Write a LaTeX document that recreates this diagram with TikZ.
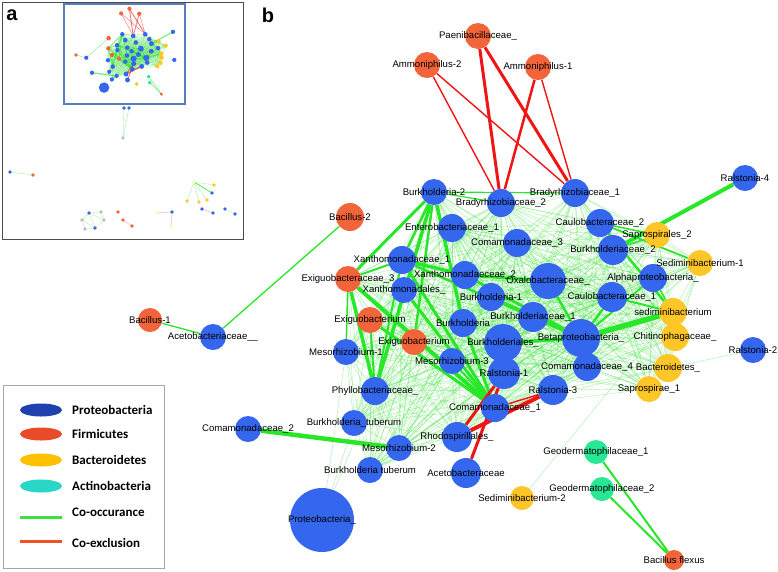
\documentclass[tikz,border=0pt]{standalone}
\usepackage{fontspec}
\setmainfont{Liberation Sans}
\newfontfamily\legfont{Carlito}
\usetikzlibrary{shapes.geometric}
\pgfdeclarelayer{bgfill}
\pgfdeclarelayer{edges}
\pgfsetlayers{bgfill,edges,main}
\definecolor{pblue}{RGB}{52,102,238}
\definecolor{fred}{RGB}{242,100,58}
\definecolor{byel}{RGB}{255,198,40}
\definecolor{ateal}{RGB}{40,232,150}
\definecolor{gline}{RGB}{40,230,40}
\definecolor{gthin}{RGB}{70,228,70}
\definecolor{rline}{RGB}{240,20,20}
\definecolor{gdot}{RGB}{190,190,190}
\definecolor{pyel}{RGB}{255,250,170}
\definecolor{boxblue}{RGB}{90,125,190}
\definecolor{lgblue}{RGB}{30,65,175}
\definecolor{lgred}{RGB}{232,75,40}
\definecolor{lgyel}{RGB}{255,192,0}
\definecolor{lgteal}{RGB}{40,215,200}
\definecolor{lggreen}{RGB}{60,225,60}
\definecolor{lgorange}{RGB}{240,80,40}

\def\NodeList{%
pae/478/36/13/fred/{Paenibacillaceae\_},
am2/427/65/13/fred/{Ammoniphilus-2},
am1/538/67/13/fred/{Ammoniphilus-1},
ba2/350/217/14/fred/{Bacillus-2},
ba1/150/320/12/fred/{Bacillus-1},
ex3/348/279/13/fred/{Exiguobacteraceae\_3},
exa/370/320/13/fred/{Exiguobacterium},
exb/414/342/13/fred/{Exiguobacterium},
bfl/674/560/10/fred/{Bacillus flexus},
bu2/434/192/13/pblue/{Burkholderia-2},
br2/501/203/14/pblue/{Bradyrhizobiaceae\_2},
br1/575/193/14/pblue/{Bradyrhizobiaceae\_1},
ra4/745/178/13/pblue/{Ralstonia-4},
ca2/600/223/14/pblue/{Caulobacteraceae\_2},
bk2/613/250/15/pblue/{Burkholderiaceae\_2},
alp/653/278/14/pblue/{Alphaproteobacteria\_},
ca1/612/297/15/pblue/{Caulobacteraceae\_1},
bet/581/338/19/pblue/{Betaproteobacteria\_},
ra2/753/350/13/pblue/{Ralstonia-2},
co4/587/367/14/pblue/{Comamonadaceae\_4},
ra3/553/390/15/pblue/{Ralstonia-3},
ent/452/228/14/pblue/{Enterobacteriaceae\_1},
co3/517/243/14/pblue/{Comamonadaceae\_3},
xa1/402/260/14/pblue/{Xanthomonadaceae\_1},
xa2/465/275/14/pblue/{Xanthomonadaeceae\_2},
oxa/548/281/18/pblue/{Oxalobacteraceae\_},
xan/404/290/13/pblue/{Xanthomonadales\_},
bu1/491/297/14/pblue/{Burkholderia-1},
bk1/533/317/15/pblue/{Burkholderiaceae\_1},
bur/463/323/14/pblue/{Burkholderia},
bls/503/343/19/pblue/{Burkholderiales\_},
me3/452/361/13/pblue/{Mesorhizobium-3},
ra1/504/373/16/pblue/{Ralstonia-1},
me1/346/352/13/pblue/{Mesorhizobium-1},
phy/375/391/14/pblue/{Phyllobacteriaceae\_},
co1/495/408/14/pblue/{Comamonadaceae\_1},
bt1/354/423/13/pblue/{Burkholderia\_tuberum},
rho/457/437/15/pblue/{Rhodospirillales\_},
me2/399/448/13/pblue/{Mesorhizobium-2},
co2/248/429/13/pblue/{Comamonadaceae\_2},
bt2/370/470/13/pblue/{Burkholderia tuberum},
ace/466/473/15/pblue/{Acetobacteraceae},
acb/213/337/13/pblue/{Acetobacteriaceae\_\_},
pro/322/520/32/pblue/{Proteobacteria\_},
sp2/657/235/13/byel/{Saprospirales\_2},
se1/700/263/13/byel/{Sediminibacterium-1},
sed/673/312/14/byel/{sediminibacterium},
chi/675/337/14/byel/{Chitinophagaceae\_},
bac/668/368/14/byel/{Bacteroidetes\_},
sp1/649/389/13/byel/{Saprospirae\_1},
se2/522/498/12/byel/{Sediminibacterium-2},
ge1/596/452/12/ateal/{Geodermatophilaceae\_1},
ge2/602/489/12/ateal/{Geodermatophilaceae\_2}}

\def\SetA{br2,br1,ca2,bk2,alp,ca1,bet,co4,ra3,ra1,bls,bk1,oxa,co3,ent,xa2,bu1,bur,me3,co1,sp2,se1,sed,chi,bac,sp1}
\def\SetB{bu2,xa1,xan,ex3,exa,exb,me1,phy,bt1,me2,bt2,rho}
\def\SetT{br2,ent,co3,oxa,bu1,bk1,bls,bet,co1,ra1,ra3,co4,ca1,me3,bur}
\def\ThinExtra{pro/me1,pro/phy,pro/bt1,ra2/bac,se2/sed}
\def\GreenEdges{ba2/acb/1.3,ba1/acb/1.3,co2/me2/4.5,ge1/bfl/2,ge2/bfl/2,bk2/ra4/4,bet/sed/5.5,ca2/sed/2.5,ca2/se1/1.8,ca2/sp2/1.5,bk2/sp2/1.5,alp/sed/1.5,ca1/sed/2,bu2/ex3/3,bu2/xa1/2.5,bu2/phy/3.5,bu2/bur/3.5,bu2/exb/2.5,bu2/br2/1.2,bu2/br1/1.2,ex3/phy/3.5,ex3/co1/4,exa/co1/3,xan/co1/3,xa1/co1/3,bur/co1/3,me3/co1/2,xa1/xa2/3.5,xa2/oxa/3,xa1/bet/2.5,xa2/bet/3,bu1/bet/3,bk1/bet/3.5,bls/bet/3.5,oxa/bet/2.5,alp/bet/2,ca1/bet/2.5,exa/phy/2,xa1/phy/2,ex3/xa1/2,ex3/me1/1.5}
\def\RedEdges{pae/br2/3,pae/br1/3,am2/br2/1.4,am2/br1/1.4,am1/br2/2.5,am1/br1/1.4,ra1/rho/3,ra1/ace/3,ra3/rho/4,ra3/co1/1.5}

\newcommand\DrawNet[4]{%
  \foreach \a [count=\i] in \SetA {\foreach \b [count=\j] in \SetA {\ifnum\j>\i \draw[#3] (#1\a) -- (#1\b);\fi}}
  \foreach \a [count=\i] in \SetB {\foreach \b [count=\j] in \SetB {\ifnum\j>\i \draw[#3] (#1\a) -- (#1\b);\fi}}
  \foreach \a in \SetB {\foreach \b in \SetT {\draw[#3] (#1\a) -- (#1\b);}}
  \foreach \a/\b in \ThinExtra {\draw[#3] (#1\a) -- (#1\b);}
  \foreach \a/\b/\w in \GreenEdges {\draw[gline, opacity=#4, line width={#2*\w*1pt}] (#1\a) -- (#1\b);}
  \foreach \a/\b/\w in \RedEdges {\draw[rline, opacity=#4, line width={#2*\w*1pt}] (#1\a) -- (#1\b);}
}

\begin{document}
\begin{tikzpicture}[x=1pt,y=-1pt,
  nlabel/.style={font=\fontsize{9.6}{11}\selectfont, inner sep=0pt},
  thinmesh/.style={gthin, line width=0.45pt, opacity=0.45},
  minimesh/.style={gthin, line width=0.25pt, opacity=0.25},
  legtext/.style={font=\legfont\bfseries\fontsize{13}{15}\selectfont, anchor=west, inner sep=0pt},
  paneltag/.style={font=\bfseries\fontsize{20}{22}\selectfont, inner sep=0pt},
  pale/.style={gthin, line width=0.4pt, opacity=0.45},
  palered/.style={rline, line width=0.4pt, opacity=0.4}]
\useasboundingbox (0,0) rectangle (778,571);
\begin{pgfonlayer}{bgfill}
\fill[white] (0,0) rectangle (778,571);
\end{pgfonlayer}

% ---------- panel b nodes ----------
\foreach \id/\x/\y/\r/\c/\t in \NodeList {
  \node[circle, fill=\c, minimum size={2*\r*1pt}, inner sep=0pt] (\id) at (\x,\y) {};
  \coordinate (m\id) at ({51.55+0.163*\x},{2.84+0.163*\y});
}
\begin{pgfonlayer}{edges}
  \DrawNet{}{1}{thinmesh}{1}
  \DrawNet{m}{0.3}{minimesh}{0.6}
\end{pgfonlayer}
\foreach \id/\x/\y/\r/\c/\t in \NodeList {
  \node[nlabel] (\id-l) at (\x,\y) {\t};
  \fill[\c] (m\id) circle[radius={max(1.6,0.163*\r)*1pt}];
}

% ---------- panel a ----------
\draw[gray!60!black, line width=1pt] (2,2) rectangle (243,239);
\draw[boxblue, line width=1.3pt] (64,4) rectangle (185,104);
\node[paneltag] (taga) at (12,15) {a};
\node[paneltag] (tagb) at (268,15) {b};

\coordinate (x1) at (124,108); \coordinate (x2) at (129,108); \coordinate (x3) at (123,138);
\coordinate (y1) at (10,172); \coordinate (y2) at (33,175);
\coordinate (z0) at (194,182); \coordinate (z1) at (214,185); \coordinate (z2) at (187,201);
\coordinate (z3) at (199,202); \coordinate (z4) at (207,200); \coordinate (z5) at (212,193);
\coordinate (w1) at (202,209); \coordinate (w2) at (213,213);
\coordinate (v1) at (225,209); \coordinate (v2) at (235,214);
\coordinate (u1) at (172,212); \coordinate (u2) at (157,213); \coordinate (u3) at (171,227);
\coordinate (t1) at (89,213); \coordinate (t2) at (101,212); \coordinate (t3) at (82,220);
\coordinate (t4) at (104,220); \coordinate (t5) at (85,229); \coordinate (t6) at (95,228);
\coordinate (s1) at (118,212); \coordinate (s2) at (123,220); \coordinate (s3) at (132,226);
\begin{pgfonlayer}{edges}
  \draw[pale] (x1) -- (x3); \draw[pale] (x2) -- (x3);
  \draw[pale] (y1) -- (y2);
  \foreach \p in {z1,z2,z3,z4} {\draw[pale] (z0) -- (\p);}
  \draw[gline, line width=0.6pt] (z0) -- (z5);
  \draw[palered] (w1) -- (w2);
  \draw[pale] (v1) -- (v2);
  \draw[palered] (u1) -- (u2); \draw[palered] (u1) -- (u3);
  \foreach \p/\q in {t1/t2,t1/t3,t1/t4,t3/t5,t5/t6,t6/t4,t2/t4,t1/t6,t3/t6} {\draw[pale] (\p) -- (\q);}
  \draw[palered] (s2) -- (s3);
\end{pgfonlayer}
\foreach \p/\c in {x1/pblue,x2/pblue,x3/gdot,y1/pblue,y2/fred,z0/pyel,z1/byel,z2/byel,z3/byel,z4/byel,z5/pblue,w1/pblue,w2/pblue,v1/pblue,v2/pblue,u1/pblue,u2/pyel,u3/pyel,t1/pblue,t2/gdot,t3/gdot,t4/gdot,t5/gdot,t6/pblue,s1/fred,s2/fred,s3/fred} {
  \fill[\c] (\p) circle[radius=1.8pt];
}

% ---------- legend ----------
\draw[gray!70, line width=0.7pt] (3,385) rectangle (164,568);
\node[ellipse, fill=lgblue, minimum width=42pt, minimum height=13pt, inner sep=0pt] (lg1) at (41,410) {};
\node[ellipse, fill=lgred, minimum width=42pt, minimum height=13pt, inner sep=0pt] (lg2) at (41,434) {};
\node[ellipse, fill=lgyel, minimum width=42pt, minimum height=13pt, inner sep=0pt] (lg3) at (41,460) {};
\node[ellipse, fill=lgteal, minimum width=42pt, minimum height=13pt, inner sep=0pt] (lg4) at (41,486) {};
\coordinate (lc1a) at (20,517); \coordinate (lc1b) at (62,517);
\coordinate (lc2a) at (20,541); \coordinate (lc2b) at (62,541);
\draw[lggreen, line width=3pt] (lc1a) -- (lc1b);
\draw[lgorange, line width=3pt] (lc2a) -- (lc2b);
\node[legtext] (lt1) at (72,410) {Proteobacteria};
\node[legtext] (lt2) at (72,434) {Firmicutes};
\node[legtext] (lt3) at (72,460) {Bacteroidetes};
\node[legtext] (lt4) at (72,486) {Actinobacteria};
\node[legtext] (lt5) at (72,512) {Co-occurance};
\node[legtext] (lt6) at (72,543) {Co-exclusion};
\end{tikzpicture}
\end{document}
